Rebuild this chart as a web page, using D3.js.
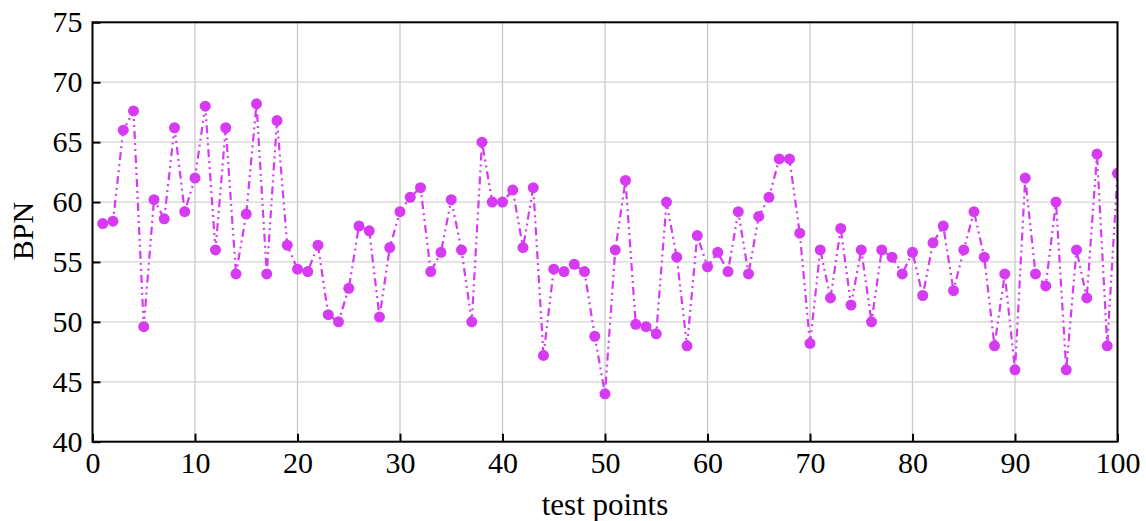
<!DOCTYPE html>
<html>
<head>
<meta charset="utf-8">
<script src="https://cdn.jsdelivr.net/npm/d3@7"></script>
<style>
  body { margin: 0; background: #fff; }
  svg text { font-family: "Liberation Serif", "DejaVu Serif", serif; }
</style>
</head>
<body>
<script>
// chart data
var testPoints = d3.range(1, 101);
var bpnValues = [
  58.2, 58.4, 66.0, 67.6, 49.6, 60.2, 58.6, 66.2, 59.2, 62.0,
  68.0, 56.0, 66.2, 54.0, 59.0, 68.2, 54.0, 66.8, 56.4, 54.4,
  54.2, 56.4, 50.6, 50.0, 52.8, 58.0, 57.6, 50.4, 56.2, 59.2,
  60.4, 61.2, 54.2, 55.8, 60.2, 56.0, 50.0, 65.0, 60.0, 60.0,
  61.0, 56.2, 61.2, 47.2, 54.4, 54.2, 54.8, 54.2, 48.8, 44.0,
  56.0, 61.8, 49.8, 49.6, 49.0, 60.0, 55.4, 48.0, 57.2, 54.6,
  55.8, 54.2, 59.2, 54.0, 58.8, 60.4, 63.6, 63.6, 57.4, 48.2,
  56.0, 52.0, 57.8, 51.4, 56.0, 50.0, 56.0, 55.4, 54.0, 55.8,
  52.2, 56.6, 58.0, 52.6, 56.0, 59.2, 55.4, 48.0, 54.0, 46.0,
  62.0, 54.0, 53.0, 60.0, 46.0, 56.0, 52.0, 64.0, 48.0, 62.4
];
var xTicks = [0, 10, 20, 30, 40, 50, 60, 70, 80, 90, 100];
var yTicks = [40, 45, 50, 55, 60, 65, 70, 75];

var data = testPoints.map(function(d, i){ return {x: d, y: bpnValues[i]}; });

var serif = "Liberation Serif, DejaVu Serif, serif";

//dimensions and margins
var graphSize = {top: 22.3, bottom: 79.3, right: 28.5, left: 92.5},
  width = 1146 - graphSize.left - graphSize.right,
  height = 521 - graphSize.top - graphSize.bottom;

var x = d3.scaleLinear().domain([0, 100]).range([0, width]);
var y = d3.scaleLinear().domain([40, 75]).range([height, 0]);

var color = "#d63bf3";

var svg = d3.select("body").append("svg")
    .attr("width", 1146)
    .attr("height", 521)
    .attr("font-family", serif)
  .append("g")
    .attr("transform", "translate(" + graphSize.left + "," + graphSize.top + ")");

svg.append("clipPath").attr("id", "plotClip")
  .append("rect").attr("width", width).attr("height", height);

//grid lines
svg.append("g").selectAll("line")
  .data(xTicks.slice(1, -1))
  .enter().append("line")
  .attr("x1", function(d){ return x(d); })
  .attr("x2", function(d){ return x(d); })
  .attr("y1", 0).attr("y2", height)
  .attr("stroke", "#c8c8c8").attr("stroke-width", 1.3);

svg.append("g").selectAll("line")
  .data(yTicks.slice(1, -1))
  .enter().append("line")
  .attr("y1", function(d){ return y(d); })
  .attr("y2", function(d){ return y(d); })
  .attr("x1", 0).attr("x2", width)
  .attr("stroke", "#d4d4d4").attr("stroke-width", 1.3);

//line and markers
var bpnLine = d3.line()
  .x(function(d){ return x(d.x); })
  .y(function(d){ return y(d.y); });

var plot = svg.append("g").attr("clip-path", "url(#plotClip)");

plot.append("path")
  .datum(data)
  .attr("d", bpnLine)
  .attr("fill", "none")
  .attr("stroke", color)
  .attr("stroke-width", 2.2)
  .attr("stroke-dasharray", "8,4,2,4,2,4");

plot.selectAll("circle")
  .data(data)
  .enter().append("circle")
  .attr("cx", function(d){ return x(d.x); })
  .attr("cy", function(d){ return y(d.y); })
  .attr("r", 5.5)
  .attr("fill", color);

//axes
var xAxis = svg.append("g")
  .attr("transform", "translate(0," + height + ")")
  .call(d3.axisBottom(x).tickValues(xTicks).tickSize(-8).tickPadding(10).tickFormat(d3.format("d")));

var yAxis = svg.append("g")
  .call(d3.axisLeft(y).tickValues(yTicks).tickSize(-8).tickPadding(10).tickFormat(d3.format("d")));

[xAxis, yAxis].forEach(function(a){
  a.attr("font-family", serif).attr("font-size", 30);
  a.select(".domain").remove();
  a.selectAll(".tick line").attr("stroke", "#000").attr("stroke-width", 2);
  a.selectAll(".tick text").attr("fill", "#000");
});

//frame
svg.append("rect")
  .attr("width", width).attr("height", height)
  .attr("fill", "none")
  .attr("stroke", "#000")
  .attr("stroke-width", 2);

//label for x axis
svg.append("text")
  .attr("x", width / 2)
  .attr("y", height + 73.5)
  .attr("font-family", serif)
  .attr("font-size", 31)
  .style("text-anchor", "middle")
  .text("test points");

//label for y axis
svg.append("text")
  .attr("transform", "rotate(-90)")
  .attr("x", -height / 2 + 1)
  .attr("y", -59.5)
  .attr("font-family", serif)
  .attr("font-size", 30)
  .style("text-anchor", "middle")
  .text("BPN");
</script>
</body>
</html>
